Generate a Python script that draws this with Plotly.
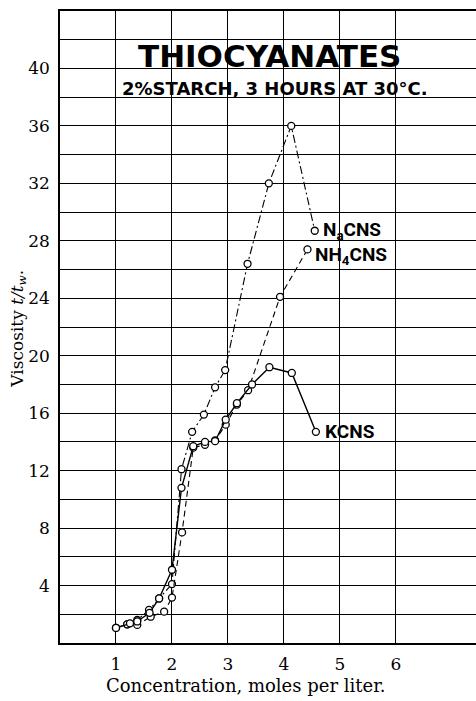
import plotly.graph_objects as go

# ---- data ----
na_x = [1.0, 1.2, 1.38, 1.59, 1.77, 2.0, 2.17, 2.36, 2.57, 2.77, 2.95, 3.35, 3.73, 4.13, 4.55]
na_y = [1.05, 1.3, 1.6, 2.3, 3.1, 4.1, 12.1, 14.7, 15.9, 17.8, 19.0, 26.4, 32.0, 36.0, 28.7]

k_x = [1.0, 1.25, 1.38, 1.6, 1.77, 2.0, 2.17, 2.38, 2.59, 2.77, 2.96, 3.16, 3.43, 3.74, 4.14, 4.57]
k_y = [1.05, 1.37, 1.5, 2.1, 3.1, 5.1, 10.8, 13.7, 14.0, 14.05, 15.55, 16.7, 18.0, 19.2, 18.8, 14.7]

nh4_x = [1.0, 1.2, 1.38, 1.62, 1.86, 2.0, 2.18, 2.38, 2.59, 2.77, 2.96, 3.16, 3.36, 3.93, 4.42]
nh4_y = [1.05, 1.3, 1.26, 1.83, 2.18, 3.16, 7.7, 13.6, 13.8, 14.1, 15.2, 16.6, 17.6, 24.1, 27.4]

x_tick_vals = [1, 2, 3, 4, 5, 6]
x_tick_text = ["1", "2", "3", "4", "5", "6"]
y_tick_vals = [4, 8, 12, 16, 20, 24, 28, 32, 36, 40]
y_tick_text = ["4", "8", "12", "16", "20", "24", "28", "32", "36", "40"]

serif = "DejaVu Serif"
bold = "DejaVu Sans"

fig = go.Figure()

def add_series(x, y, dash, lw=1.1):
    fig.add_trace(go.Scatter(
        x=x, y=y, mode="lines+markers",
        line=dict(color="black", width=lw, dash=dash),
        marker=dict(symbol="circle", size=7, color="white",
                    line=dict(color="black", width=1.3)),
        showlegend=False, cliponaxis=False))

add_series(na_x, na_y, "8px,3px,2px,3px")
add_series(nh4_x, nh4_y, "6px,4px")
add_series(k_x, k_y, "solid", 1.4)

annotations = [
    dict(text="<b>THIOCYANATES</b>", x=0.5047, xref="paper", y=40.9, yref="y",
         showarrow=False, font=dict(family=bold, size=31, color="black"),
         xanchor="center", yanchor="middle"),
    dict(text="<b>2%STARCH, 3 HOURS AT 30°C.</b>", x=0.517, xref="paper", y=38.6, yref="y",
         showarrow=False, font=dict(family=bold, size=18, color="black"),
         xanchor="center", yanchor="middle"),
    dict(text="<b>N<sub>a</sub>CNS</b>", x=4.66, y=28.75, showarrow=False,
         font=dict(family="Roboto", size=19, color="black"), xanchor="left", yanchor="middle"),
    dict(text="<b>NH<sub>4</sub>CNS</b>", x=4.52, y=27.0, showarrow=False,
         font=dict(family="Roboto", size=19, color="black"), xanchor="left", yanchor="middle"),
    dict(text="<b>KCNS</b>", x=4.70, y=14.7, showarrow=False,
         font=dict(family="Roboto", size=19, color="black"), xanchor="left", yanchor="middle"),
    dict(text="Concentration, moles per liter.", x=0.447, xref="paper", y=-0.068, yref="paper",
         showarrow=False, font=dict(family=serif, size=18, color="black"),
         xanchor="center", yanchor="middle"),
    dict(text="Viscosity <i>t/t<sub>w</sub></i>.", x=-0.099, xref="paper", y=0.497, yref="paper",
         showarrow=False, textangle=-90, font=dict(family=serif, size=17, color="black"),
         xanchor="center", yanchor="middle"),
]

fig.update_layout(
    width=476, height=701,
    margin=dict(l=60, r=0, t=11, b=58),
    paper_bgcolor="white", plot_bgcolor="white",
    annotations=annotations,
    xaxis=dict(range=[0, 7.43], tickvals=x_tick_vals, ticktext=x_tick_text,
               showgrid=True, gridcolor="black", gridwidth=1,
               showline=True, linecolor="black", linewidth=1.5, mirror=True,
               ticks="outside", ticklen=5, tickcolor="rgba(0,0,0,0)",
               tickfont=dict(family=serif, size=17, color="black"),
               zeroline=False, fixedrange=True),
    yaxis=dict(range=[0, 44], tickvals=y_tick_vals, ticktext=y_tick_text,
               showgrid=True, gridcolor="black", gridwidth=1,
               minor=dict(dtick=2, tick0=0, showgrid=True, gridcolor="black", gridwidth=1),
               showline=True, linecolor="black", linewidth=1.5, mirror=False,
               ticks="outside", ticklen=5, tickcolor="rgba(0,0,0,0)",
               tickfont=dict(family=serif, size=17, color="black"),
               zeroline=False, fixedrange=True),
)

fig.write_html("out.html", config={"displayModeBar": False},
               post_script="document.body.style.margin='0';document.body.style.overflow='hidden';")
